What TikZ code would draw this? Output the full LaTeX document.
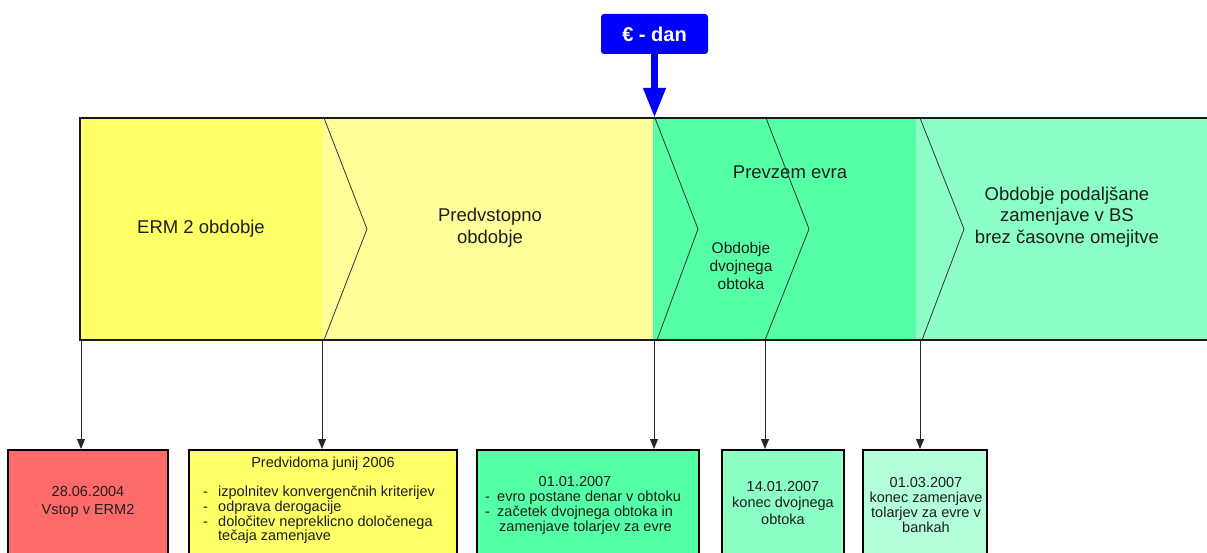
\documentclass[tikz,border=0pt]{standalone}
\usepackage{fontspec}
\setmainfont{Liberation Sans}
\usetikzlibrary{arrows.meta}
\definecolor{ermY}{HTML}{FFFF66}
\definecolor{preY}{HTML}{FFFF99}
\definecolor{grA}{HTML}{55FFA6}
\definecolor{grB}{HTML}{8CFFC6}
\definecolor{redB}{HTML}{FF6B6B}
\definecolor{boxD}{HTML}{8CFFC4}
\definecolor{boxE}{HTML}{B3FFDA}
\definecolor{euroC}{HTML}{0000FF}
\definecolor{txt}{HTML}{1E1E1E}
\tikzset{
  bigtext/.style={text=txt, align=center, inner sep=0pt, font=\fontsize{18.5}{21.7}\selectfont},
  midtext/.style={text=txt, align=center, inner sep=0pt, font=\fontsize{15.5}{18.3}\selectfont},
  chev/.style={draw=black!80, line width=0.8pt},
  band/.style={draw=black!90, line width=1.6pt},
  eurobox/.style={fill=euroC, rounded corners=3pt, minimum width=107pt, minimum height=40pt, inner sep=0pt,
    text=white, font=\fontsize{20}{24}\bfseries\selectfont},
  euroarrow/.style={draw=euroC, line width=7pt, -{Triangle[width=21pt,length=30pt]}},
  conn/.style={draw=black!85, line width=0.8pt, -{Triangle[width=8pt,length=10pt]}},
  infobox/.style={draw=black, line width=1.5pt, anchor=north, inner sep=0pt},
  boxtext/.style={text=txt, inner sep=0pt, font=\fontsize{14.5}{#1}\selectfont},
  boxtext/.default=15
}
\begin{document}
\begin{tikzpicture}[x=1pt,y=-1pt]
\useasboundingbox (0,0) rectangle (1207,553);
\clip (0,0) rectangle (1207,553);
% band fills
\fill[ermY] (80,118) rectangle (322,340);
\fill[preY] (322,118) rectangle (653,340);
\fill[grA] (653,118) rectangle (916,340);
\fill[grB] (916,118) rectangle (1207,340);
% chevrons
\draw[chev] (324,118) -- (367,229) -- (324,340);
\draw[chev] (655,118) -- (698,229) -- (657,340);
\draw[chev] (766,118) -- (809,229) -- (765,340);
\draw[chev] (920,118) -- (964,229) -- (922,340);
% band border
\draw[band] (1207,118) -- (80,118) -- (80,340) -- (1207,340);
% band texts
\node[bigtext] (erm) at (201,229) {ERM 2 obdobje};
\node[bigtext] (pre) at (490,228) {Predvstopno\\obdobje};
\node[bigtext] (prev) at (790,172) {Prevzem evra};
\node[midtext] (dvoj) at (741,266) {Obdobje\\dvojnega\\obtoka};
\node[bigtext] (podal) at (1067,217) {Obdobje podaljšane\\zamenjave v BS\\brez časovne omejitve};
% euro day
\node[eurobox] (euro) at (654.5,34) {€ - dan};
\coordinate (eurotip) at (654.5,118);
\draw[euroarrow] (euro.south) -- (eurotip);
% connector starts
\coordinate (c1) at (81,340);
\coordinate (c2) at (322,340);
\coordinate (c3) at (654,340);
\coordinate (c4) at (765,340);
\coordinate (c5) at (920,340);
% boxes
\node[infobox, fill=redB, minimum width=160pt, minimum height=130pt] (b1) at (88,449) {};
\node[infobox, fill=ermY, minimum width=268pt, minimum height=130pt] (b2) at (323,449) {};
\node[infobox, fill=grA, minimum width=222pt, minimum height=130pt] (b3) at (588,449) {};
\node[infobox, fill=boxD, minimum width=122pt, minimum height=130pt] (b4) at (783,449) {};
\node[infobox, fill=boxE, minimum width=124pt, minimum height=130pt] (b5) at (925,449) {};
% connectors
\draw[conn] (c1) -- (c1 |- b1.north);
\draw[conn] (c2) -- (c2 |- b2.north);
\draw[conn] (c3) -- (c3 |- b3.north);
\draw[conn] (c4) -- (c4 |- b4.north);
\draw[conn] (c5) -- (c5 |- b5.north);
% box texts
\node[boxtext=18, align=center] (t1) at (88,502) {28.06.2004\\Vstop v ERM2};
\node[boxtext] (t2a) at (323,464) {Predvidoma junij 2006};
\node[boxtext=14.6, align=left, anchor=west] (t2b) at (203,515)
  {\makebox[15pt][l]{-}izpolnitev konvergenčnih kriterijev\\
   \makebox[15pt][l]{-}odprava derogacije\\
   \makebox[15pt][l]{-}določitev nepreklicno določenega\\
   \hspace*{15pt}tečaja zamenjave};
\node[boxtext] (t3a) at (575,482) {01.01.2007};
\node[boxtext=15, align=left, anchor=west] (t3b) at (485,513)
  {\makebox[12pt][l]{-}evro postane denar v obtoku\\
   \makebox[12pt][l]{-}začetek dvojnega obtoka in\\
   \hspace*{14pt}zamenjave tolarjev za evre};
\node[boxtext=16.5, align=center] (t4) at (783,503) {14.01.2007\\konec dvojnega\\obtoka};
\node[boxtext=15, align=center] (t5) at (926,505) {01.03.2007\\konec zamenjave\\tolarjev za evre v\\bankah};
\end{tikzpicture}
\end{document}
